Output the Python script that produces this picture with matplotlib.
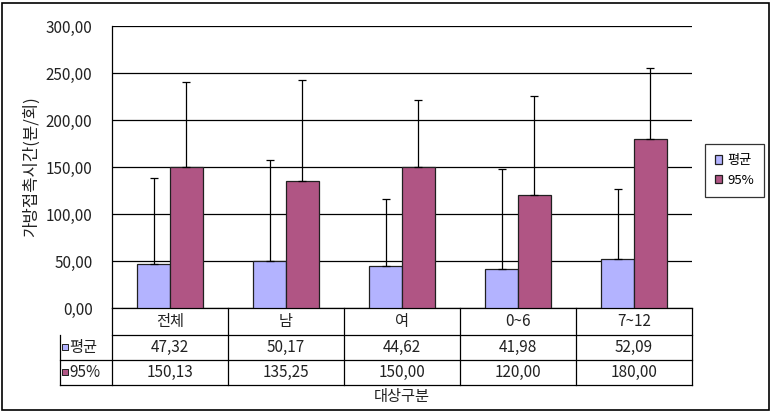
import numpy as np
import matplotlib
matplotlib.use('Agg')
from matplotlib import pyplot as plt
from matplotlib.patches import Rectangle

plt.rcParams['font.family'] = ['Noto Sans CJK KR', 'DejaVu Sans']

categories = ['전체', '남', '여', '0~6', '7~12']
series_names = ['평균', '95%']
mean_vals = [47.32, 50.17, 44.62, 41.98, 52.09]
p95_vals = [150.13, 135.25, 150.00, 120.00, 180.00]
# upper error (same for both series, read from the whisker tops)
err_up = [90.5, 107.0, 71.5, 105.5, 75.0]
yticks = [0, 50, 100, 150, 200, 250, 300]

colors = ['#B3B3FF', '#B05584']

W, H = 772, 412
fig = plt.figure(figsize=(W / 100, H / 100), dpi=100)


def box(l, t, r, b):
    return [l / W, 1 - b / H, (r - l) / W, (b - t) / H]


def fmt(v):
    return f"{v:.2f}".replace('.', ',')


# outer chart border
fig.patches.append(Rectangle((2 / W, 2 / H), 767 / W, 407 / H, transform=fig.transFigure,
                             fill=False, edgecolor='black', lw=1.2))

fs = 11
txt = '#222222'

ax = fig.add_axes(box(112, 26, 692, 308))
x = np.arange(len(categories))
w = 0.284
ekw = dict(ecolor='black', elinewidth=0.9, capsize=3, capthick=0.9)
b1 = ax.bar(x - w / 2, mean_vals, w, color=colors[0], edgecolor='#202020', lw=0.9,
            yerr=[np.zeros(len(x)), err_up], error_kw=ekw, label=series_names[0], zorder=3)
b2 = ax.bar(x + w / 2, p95_vals, w, color=colors[1], edgecolor='#202020', lw=0.9,
            yerr=[np.zeros(len(x)), err_up], error_kw=ekw, label=series_names[1], zorder=3)
ax.set_xlim(-0.5, len(categories) - 0.5)
ax.set_ylim(0, 300)
ax.set_yticks(yticks)
ax.set_yticklabels([fmt(v) for v in yticks], fontsize=fs, color=txt)
ax.tick_params(axis='y', length=0, pad=14)
ax.set_xticks([])
ax.yaxis.grid(True, color='black', lw=0.9)
ax.set_axisbelow(True)
for s in ['top', 'right']:
    ax.spines[s].set_visible(False)
ax.spines['left'].set_linewidth(0.9)
ax.spines['bottom'].set_linewidth(0.9)
ax.set_ylabel('가방접촉시간(분/회)', fontsize=12, color=txt)
ax.yaxis.set_label_coords(-0.125, 0.5)

# data table under the plot
tax = fig.add_axes(box(112, 308, 692, 385))
tax.set_xlim(-0.5, len(categories) - 0.5)
rows = [0, 27, 52, 77]
tax.set_ylim(rows[-1], 0)
tax.axis('off')
left = -0.5 - 52 / 116
lk = dict(color='black', lw=0.9, clip_on=False)
tax.plot([-0.5, 4.5], [rows[1]] * 2, **lk)
for r in rows[2:]:
    tax.plot([left, 4.5], [r] * 2, **lk)
for i in range(len(categories) + 1):
    tax.plot([i - 0.5] * 2, [rows[0], rows[-1]], **lk)
tax.plot([left] * 2, [rows[1], rows[-1]], **lk)

tk = dict(ha='center', va='center', fontsize=fs, color=txt)
for i, c in enumerate(categories):
    tax.text(i, (rows[0] + rows[1]) / 2, c, **tk)
    tax.text(i, (rows[1] + rows[2]) / 2, fmt(mean_vals[i]), **tk)
    tax.text(i, (rows[2] + rows[3]) / 2, fmt(p95_vals[i]), **tk)
for j, (name, col) in enumerate(zip(series_names, colors)):
    yc = (rows[j + 1] + rows[j + 2]) / 2
    tax.scatter([left + 5 / 116], [yc - 1], marker='s', s=22, color=col,
                edgecolor='#202020', lw=0.7, clip_on=False)
    tax.text(left + 9 / 116, yc, name, ha='left', va='center', fontsize=fs, color=txt)

fig.text(402 / W, 1 - 396 / H, '대상구분', ha='center', va='center', fontsize=fs, color=txt)

leg = fig.legend(handles=[b1, b2], labels=series_names, loc='center',
                 bbox_to_anchor=(734.5 / W, 1 - 170.5 / H), fontsize=9.5, frameon=True,
                 fancybox=False, edgecolor='black', handlelength=0.6, handleheight=0.6,
                 handletextpad=0.4, borderpad=0.75, labelspacing=0.5, borderaxespad=0)
leg.get_frame().set_linewidth(0.9)

fig.savefig('out.png', dpi=100)
